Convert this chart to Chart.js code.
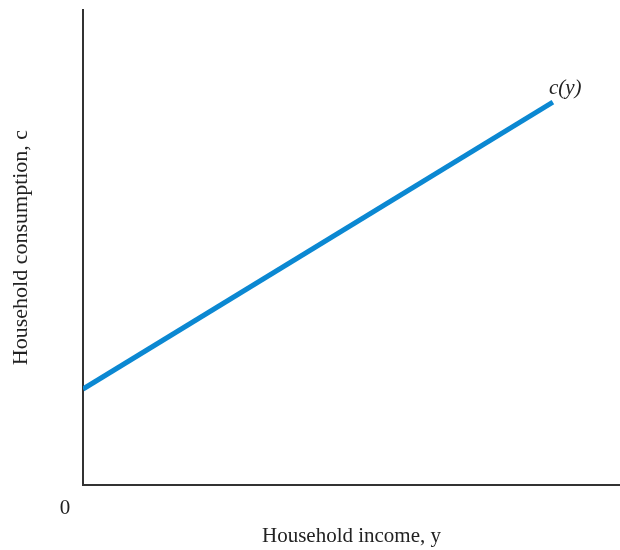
<!DOCTYPE html>
<html>
<head>
<meta charset="utf-8">
<script src="https://cdn.jsdelivr.net/npm/chart.js@4"></script>
<style>
  html, body { margin: 0; padding: 0; background: #fff; }
  #wrap { width: 620px; height: 550px; }
</style>
</head>
<body>
<div id="wrap"><canvas id="chart" width="620" height="550"></canvas></div>
<script>
// Data (axes 0..100, no ticks)
const income = [0, 87.5];
const consumption = [20.2, 80.6];
const curveLabel = 'c(y)';
const originLabel = '0';

const serif = "'Liberation Serif', 'DejaVu Serif', serif";

// Draws the "0" at the origin and the c(y) tag at the end of the line
const labelsPlugin = {
  id: 'labels',
  afterDatasetsDraw(chart) {
    const ctx = chart.ctx;
    const xs = chart.scales.x;
    const ys = chart.scales.y;
    ctx.save();
    ctx.fillStyle = '#222';
    ctx.font = '21px ' + serif;
    ctx.textAlign = 'center';
    ctx.textBaseline = 'middle';
    ctx.fillText(originLabel, xs.getPixelForValue(0) - 18, ys.getPixelForValue(0) + 23);

    const last = income.length - 1;
    const px = xs.getPixelForValue(income[last]);
    const py = ys.getPixelForValue(consumption[last]);
    ctx.font = 'italic 21px ' + serif;
    ctx.textAlign = 'left';
    ctx.textBaseline = 'alphabetic';
    ctx.fillText(curveLabel, px - 4, py - 8);
    ctx.restore();
  }
};

new Chart(document.getElementById('chart'), {
  type: 'scatter',
  data: {
    datasets: [{
      data: income.map((x, i) => ({ x: x, y: consumption[i] })),
      showLine: true,
      borderColor: '#0b88d2',
      borderWidth: 5,
      pointRadius: 0,
      borderCapStyle: 'butt'
    }]
  },
  options: {
    responsive: false,
    animation: false,
    layout: { padding: { top: 10, right: 0, bottom: 0, left: 0 } },
    plugins: { legend: { display: false }, tooltip: { enabled: false } },
    scales: {
      x: {
        type: 'linear',
        min: 0,
        max: 100,
        grid: { display: false, drawTicks: false },
        border: { display: true, color: '#333', width: 2 },
        ticks: { display: false },
        title: {
          display: true,
          text: 'Household income, y',
          color: '#222',
          font: { family: serif, size: 21 },
          padding: { top: 39, bottom: 0.8 }
        }
      },
      y: {
        type: 'linear',
        min: 0,
        max: 100,
        grid: { display: false, drawTicks: false },
        border: { display: true, color: '#333', width: 2 },
        ticks: { display: false },
        title: {
          display: true,
          text: 'Household consumption, c',
          color: '#222',
          font: { family: serif, size: 22 },
          padding: { top: 8, bottom: 48.6 }
        }
      }
    }
  },
  plugins: [labelsPlugin]
});
</script>
</body>
</html>
